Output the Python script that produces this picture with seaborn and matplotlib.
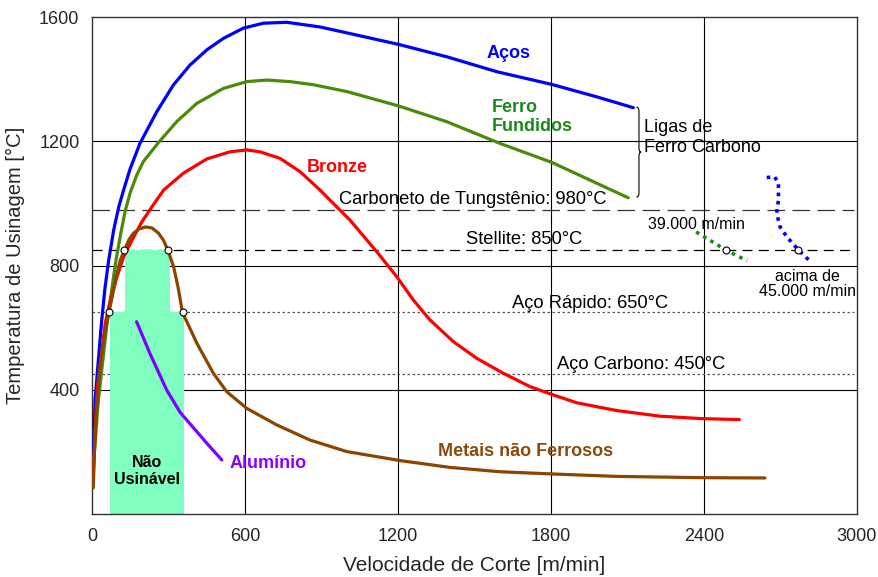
import numpy as np
import pandas as pd
import seaborn as sns
import matplotlib
matplotlib.use("Agg")
import matplotlib.pyplot as plt
from matplotlib.path import Path
from matplotlib.patches import PathPatch

# ---------------- data ----------------
acos_x = [5, 12, 37, 50, 65, 85, 105, 124, 149, 188, 254, 319, 384, 450, 515, 593, 672, 763, 894, 999, 1201, 1391, 1587, 1803, 1979, 2123]
acos_y = [158, 367, 614, 721, 815, 914, 989, 1043, 1110, 1193, 1295, 1381, 1445, 1494, 1531, 1564, 1580, 1583, 1568, 1549, 1512, 1472, 1424, 1383, 1343, 1308]

ferro_x = [5, 25, 59, 72, 92, 112, 130, 150, 175, 201, 260, 332, 411, 515, 607, 685, 776, 868, 999, 1201, 1391, 1600, 1803, 1979, 2103]
ferro_y = [150, 367, 614, 689, 807, 900, 975, 1035, 1090, 1134, 1195, 1263, 1322, 1370, 1392, 1397, 1392, 1382, 1360, 1314, 1263, 1193, 1132, 1065, 1018]

bronze_x = [5, 20, 52, 72, 98, 124, 157, 196, 235, 281, 358, 450, 541, 607, 659, 737, 816, 894, 946, 1012, 1117, 1195, 1260, 1325, 1417, 1509, 1613, 1718, 1803, 1901, 2058, 2227, 2391, 2539]
bronze_y = [130, 400, 614, 689, 764, 828, 882, 941, 989, 1043, 1097, 1143, 1166, 1172, 1166, 1145, 1102, 1043, 1000, 946, 844, 764, 689, 625, 555, 501, 453, 410, 385, 358, 333, 315, 307, 304]

metais_x = [5, 12, 31, 51, 66, 78, 98, 111, 127, 144, 163, 183, 209, 235, 261, 281, 298, 320, 337, 355, 384, 411, 476, 528, 607, 724, 855, 999, 1208, 1404, 1600, 1803, 2058, 2391, 2639]
metais_y = [84, 260, 474, 582, 648, 695, 775, 818, 848, 882, 904, 917, 924, 921, 904, 880, 848, 796, 732, 648, 598, 550, 453, 394, 340, 287, 238, 201, 172, 150, 136, 129, 121, 117, 116]

aluminio_x = [175, 227, 293, 345, 371, 450, 509]
aluminio_y = [619, 517, 399, 328, 303, 228, 174]

v39_x = [2369, 2486, 2569]
v39_y = [908, 850, 815]

v45_x = [2646, 2676, 2692, 2692, 2685, 2698, 2724, 2770, 2818]
v45_y = [1083, 1086, 1067, 1011, 969, 925, 893, 850, 812]

limit_x = [66, 127, 298, 355, 2486, 2770]
limit_y = [650, 850, 850, 650, 850, 850]

zone_left = [71, 129]
zone_right = [361, 306]
zone_top = [650, 850]

ref_values = [980, 850, 650, 450]
ref_labels = ["Carboneto de Tungstênio: 980°C", "Stellite: 850°C",
              "Aço Rápido: 650°C", "Aço Carbono: 450°C"]
ref_label_x = [1494, 1695, 1954, 2153]
ref_label_y = [1014, 885, 679, 480]

xticks = [0, 600, 1200, 1800, 2400, 3000]
yticks = [400, 800, 1200, 1600]

# ---------------- style ----------------
sns.set_style("white")
plt.rcParams['font.family'] = ['Liberation Sans', 'DejaVu Sans']

fig = plt.figure(figsize=(8.79, 5.77), dpi=100)
ax = fig.add_axes([92/879, 1 - 514/577, (857-92)/879, (514-17)/577])

# grid
for xv in xticks[1:-1]:
    ax.axvline(xv, color='black', lw=0.8, zorder=1)
for yv in yticks[:-1]:
    ax.axhline(yv, color='black', lw=0.8, zorder=1)

# reference lines
ref_styles = [(0, (14, 6)), (0, (8, 5)), (0, (2, 2)), (0, (2, 2))]
ref_colors = ['#333333', 'black', '#555555', '#555555']
for v, ls, c in zip(ref_values, ref_styles, ref_colors):
    ax.plot([0, 2990], [v, v], color=c, lw=0.9, linestyle=ls, zorder=1)

# non machinable zone
for l, r, t in zip(zone_left, zone_right, zone_top):
    ax.bar(l, t, width=r - l, align='edge', color='#80FFC0', edgecolor='none', zorder=2)

def curve(x, y, color, lw=2.3, ls='-', z=3):
    df = pd.DataFrame({'x': x, 'y': y})
    sns.lineplot(data=df, x='x', y='y', sort=False, color=color, lw=lw,
                 linestyle=ls, ax=ax, zorder=z, estimator=None)
    ax.lines[-1].set_solid_joinstyle('round')

curve(acos_x, acos_y, '#0000FF')
curve(ferro_x, ferro_y, '#4B8B0B')
curve(bronze_x, bronze_y, '#FF0000')
curve(metais_x, metais_y, '#8B4500')
curve(aluminio_x, aluminio_y, '#8000FF')
curve(v39_x, v39_y, '#1A8A1A', lw=2.6, ls=(0, (1, 1.3)))
curve(v45_x, v45_y, '#0000FF', lw=2.6, ls=(0, (1, 1.3)))

ax.plot(limit_x, limit_y, 'o', ms=5, mfc='white', mec='black', mew=0.8, zorder=4, ls='none')

# curly brace
bx, btop, bbot = 2145, 1310, 1020
bmid = (btop + bbot) / 2
verts = [(bx - 10, btop), (bx, btop), (bx, btop - 14),
         (bx, bmid + 14), (bx, bmid), (bx + 8, bmid),
         (bx, bmid), (bx, bmid - 14),
         (bx, bbot + 14), (bx, bbot), (bx - 10, bbot)]
codes = [Path.MOVETO, Path.CURVE3, Path.CURVE3,
         Path.LINETO, Path.CURVE3, Path.CURVE3,
         Path.CURVE3, Path.CURVE3,
         Path.LINETO, Path.CURVE3, Path.CURVE3]
ax.add_patch(PathPatch(Path(verts, codes), fill=False, lw=0.8, color='black', zorder=4))

# texts
fs = 13
ax.text(1632, 1484, "Aços", color='#0000FF', fontsize=fs, fontweight='bold', ha='center', va='center', zorder=5)
ax.text(1569, 1278, "Ferro\nFundidos", color='#1A8A1A', fontsize=fs, fontweight='bold', ha='left', va='center', zorder=5)
ax.text(961, 1117, "Bronze", color='#FF0000', fontsize=fs, fontweight='bold', ha='center', va='center', zorder=5)
ax.text(1700, 200, "Metais não Ferrosos", color='#8C4A0A', fontsize=fs, fontweight='bold', ha='center', va='center', zorder=5)
ax.text(690, 164, "Alumínio", color='#9000FF', fontsize=fs, fontweight='bold', ha='center', va='center', zorder=5)
ax.text(216, 138, "Não\nUsinável", color='black', fontsize=11.5, fontweight='bold', ha='center', va='center', zorder=5)
ax.text(2165, 1212, "Ligas de\nFerro Carbono", color='black', fontsize=fs, ha='left', va='center', zorder=5)
ax.text(2369, 933, "39.000 m/min", color='black', fontsize=11.5, ha='center', va='center', zorder=5)
ax.text(2804, 740, "acima de\n45.000 m/min", color='black', fontsize=11.5, ha='center', va='center', linespacing=1.0, zorder=5)
for lab, lx, ly in zip(ref_labels, ref_label_x, ref_label_y):
    ax.text(lx, ly, lab, color='black', fontsize=13.2, ha='center', va='center', zorder=5)

# axes
ax.set_xlim(0, 3000)
ax.set_ylim(0, 1600)
ax.set_xticks(xticks)
ax.set_yticks(yticks)
ax.tick_params(axis='both', length=0, labelsize=fs)
ax.tick_params(axis='x', pad=10)
ax.tick_params(axis='y', pad=9)
ax.set_xlabel("Velocidade de Corte [m/min]", fontsize=15, labelpad=8)
ax.set_ylabel("Temperatura de Usinagem [°C]", fontsize=14.5, labelpad=10)
for s in ax.spines.values():
    s.set_color('#333333')
    s.set_linewidth(1.0)

fig.savefig("out.png", dpi=100)
